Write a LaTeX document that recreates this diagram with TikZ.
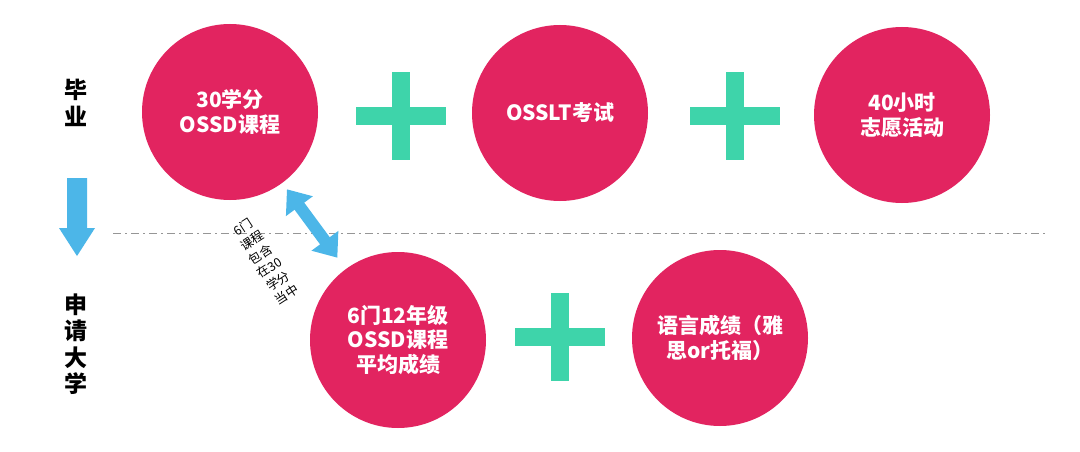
\documentclass[tikz,border=0pt]{standalone}
\usepackage{fontspec}
\setmainfont{Noto Sans CJK SC}
\usetikzlibrary{arrows.meta,calc}
\definecolor{crim}{RGB}{226,36,96}
\definecolor{mint}{RGB}{62,212,170}
\definecolor{sky}{RGB}{76,182,232}
\definecolor{dashgray}{RGB}{150,150,150}
\begin{document}
\begin{tikzpicture}[x=1pt,y=-1pt,
  circ/.style={circle, fill=crim, minimum size=176pt, inner sep=0pt, text=white,
    font=\bfseries\fontsize{21}{24.5}\selectfont, align=center},
  lab/.style={font=\bfseries\fontsize{23}{26.5}\selectfont, align=center, inner sep=0pt, text=black},
  note/.style={font=\fontsize{12.5}{16}\selectfont, align=center, inner sep=0pt, text=black},
  plussign/.pic={\fill[mint] (-45,-9) rectangle (45,9); \fill[mint] (-9,-44) rectangle (9,44);},
  dbl/.style={sky, line width=12pt, {Triangle[width=32pt,length=21pt]}-{Triangle[width=32pt,length=21pt]}}
]
\useasboundingbox (0,0) rectangle (1080,452);
\fill[white] (0,0) rectangle (1080,452);

% dash-dot separator
\coordinate (dl) at (113,233);
\coordinate (dr) at (1045,233);
\draw[dashgray, line width=1pt, dash pattern=on 8pt off 4pt on 2pt off 4pt] (dl) -- (dr);

% circles
\node[circ] (c1) at (230,112) {30学分\\OSSD课程};
\node[circ] (c2) at (560,113) {OSSLT考试};
\node[circ] (c3) at (902,115) {40小时\\志愿活动};
\node[circ] (c4) at (398,340) {6门12年级\\OSSD课程\\平均成绩};
\node[circ] (c5) at (720,338) {语言成绩（雅\\思or托福）};

% plus signs
\pic at (401,116) {plussign};
\pic at (735,116) {plussign};
\pic at (560,337) {plussign};

% left labels
\node[lab] (grad) at (76,103) {毕\\业};
\node[lab] (apply) at (76,344) {申\\请\\大\\学};

% down arrow
\fill[sky] (67,178) -- (87,178) -- (87,228) -- (95,228) -- (77,256) -- (59,228) -- (67,228) -- cycle;

% double arrow between c1 and c4
\draw[dbl] ($(c1)!96pt!(c4)$) -- ($(c1)!181pt!(c4)$);

% rotated note
\node[note, rotate=33] (nt) at (265,261) {6门\\课程\\包含\\在30\\学分\\当中};
\end{tikzpicture}
\end{document}
